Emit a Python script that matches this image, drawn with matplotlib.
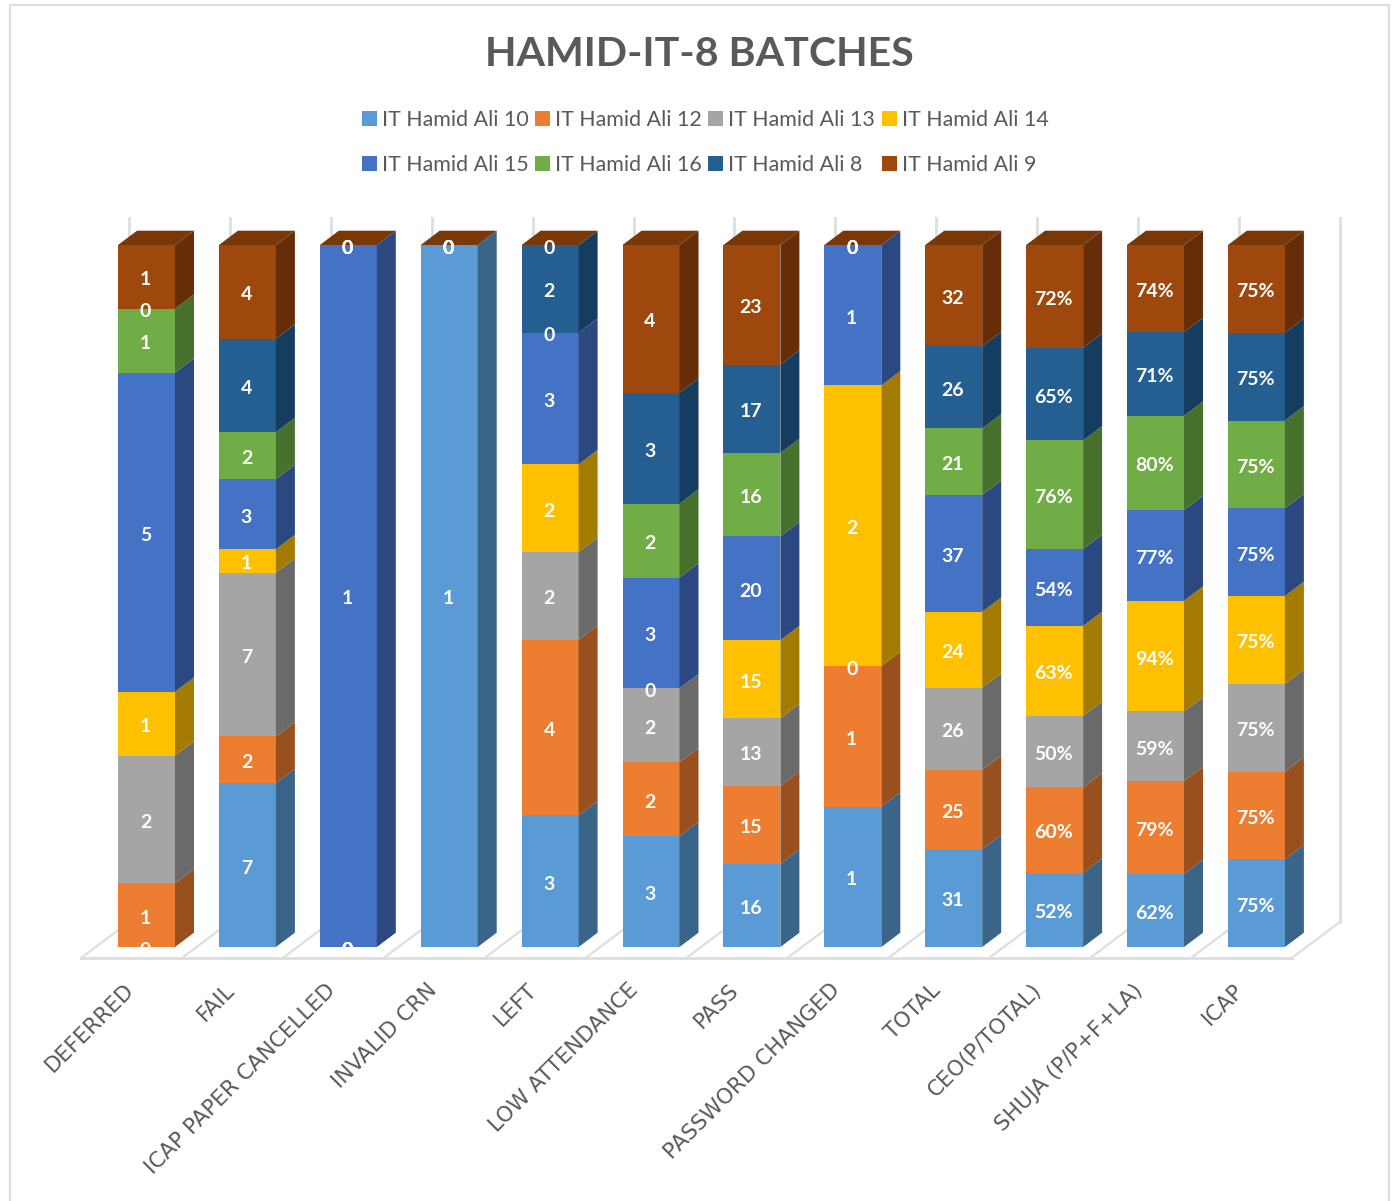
import matplotlib
matplotlib.use('Agg')
import matplotlib.pyplot as plt
from matplotlib.patches import Rectangle
from matplotlib.transforms import ScaledTranslation
import numpy as np

categories = ['DEFERRED', 'FAIL', 'ICAP PAPER CANCELLED', 'INVALID CRN', 'LEFT',
              'LOW ATTENDANCE', 'PASS', 'PASSWORD CHANGED', 'TOTAL', 'CEO(P/TOTAL)',
              'SHUJA (P/P+F+LA)', 'ICAP']
percent_categories = ['CEO(P/TOTAL)', 'SHUJA (P/P+F+LA)', 'ICAP']

series_names = ['IT Hamid Ali 10', 'IT Hamid Ali 12', 'IT Hamid Ali 13', 'IT Hamid Ali 14',
                'IT Hamid Ali 15', 'IT Hamid Ali 16', 'IT Hamid Ali 8', 'IT Hamid Ali 9']

hamid_10 = [0, 7, 0, 1, 3, 3, 16, 1, 31, 52, 62, 75]
hamid_12 = [1, 2, 0, 0, 4, 2, 15, 1, 25, 60, 79, 75]
hamid_13 = [2, 7, 0, 0, 2, 2, 13, 0, 26, 50, 59, 75]
hamid_14 = [1, 1, 0, 0, 2, 0, 15, 2, 24, 63, 94, 75]
hamid_15 = [5, 3, 1, 0, 3, 3, 20, 1, 37, 54, 77, 75]
hamid_16 = [1, 2, 0, 0, 0, 2, 16, 0, 21, 76, 80, 75]
hamid_8 = [0, 4, 0, 0, 2, 3, 17, 0, 26, 65, 71, 75]
hamid_9 = [1, 4, 0, 0, 0, 4, 23, 0, 32, 72, 74, 75]

front_colors = ['#5B9BD5', '#ED7D31', '#A5A5A5', '#FFC000', '#4472C4', '#70AD47', '#255E91', '#9E480E']
side_colors = ['#3A6488', '#98501F', '#6A6A6A', '#A37B00', '#2B4980', '#48702D', '#153D60', '#662E08']
top_color = '#7A3708'
grey_text = '#595959'
line_grey = '#DEDEDE'

W, H = 1395, 1201
FRONT_Y = 947
PLOT_H = 702
STEP = 100.9

fig = plt.figure(figsize=(W / 100, H / 100), dpi=100)
fig.add_artist(Rectangle((10 / W, -0.01), 1379 / W, 1.01 - 5 / H, transform=fig.transFigure,
                         fill=False, edgecolor=line_grey, linewidth=1.6))

ax = fig.add_axes([(146.5 - STEP / 2) / W, (H - FRONT_Y) / H, 12 * STEP / W, PLOT_H * 1.1 / H])
ax.set_xlim(-0.5, 11.5)
ax.set_ylim(0, 1.1)
for s in ax.spines.values():
    s.set_visible(False)

# depth of the fake 3d boxes, in data units
dx = 19 / STEP
dy = 14.3 / PLOT_H
bar_w = 57 / STEP

# floor and back wall lines
floor_y = -11 / PLOT_H
back_y = 25 / PLOT_H
wall_top = (FRONT_Y - 218) / PLOT_H
x0 = -0.5 + (81 - (146.5 - STEP / 2)) / STEP
shift = 48 / STEP
ax.plot([x0, x0 + 12], [floor_y, floor_y], color=line_grey, lw=2, clip_on=False, zorder=1)
for i in range(13):
    ax.plot([x0 + i, x0 + i + shift], [floor_y, back_y], color=line_grey, lw=1.6, clip_on=False, zorder=1)
    ax.plot([x0 + i + shift, x0 + i + shift], [back_y, wall_top], color=line_grey, lw=2, clip_on=False, zorder=1)

all_series = [hamid_10, hamid_12, hamid_13, hamid_14, hamid_15, hamid_16, hamid_8, hamid_9]
values = np.array(all_series, dtype=float)
shares = values / values.sum(axis=0)
x = np.arange(len(categories))

bottom = np.zeros(len(categories))
handles = []
for k in range(len(series_names)):
    bars = ax.bar(x, shares[k], bar_w, bottom=bottom, color=front_colors[k], label=series_names[k], zorder=3)
    handles.append(bars)
    for i in range(len(categories)):
        r = x[i] + bar_w / 2
        b = bottom[i]
        t = b + shares[k][i]
        if t > b:
            ax.fill([r, r + dx, r + dx, r], [b, b + dy, t + dy, t], color=side_colors[k], lw=0, zorder=3)
    bottom = bottom + shares[k]

# top lid is always the last series colour
for i in range(len(categories)):
    l = x[i] - bar_w / 2
    r = x[i] + bar_w / 2
    ax.fill([l, r, r + dx, l + dx], [1, 1, 1 + dy, 1 + dy], color=top_color, lw=0, zorder=3)

# data labels
bottom = np.zeros(len(categories))
for k in range(len(series_names)):
    for i in range(len(categories)):
        txt = str(all_series[k][i])
        if categories[i] in percent_categories:
            txt = txt + '%'
        ax.text(x[i] - 1 / STEP, bottom[i] + shares[k][i] / 2 - 3 / PLOT_H, txt, color='white', fontsize=14,
                fontweight='bold', family='Lato', ha='center', va='center', zorder=5, clip_on=True)
    bottom = bottom + shares[k]

ax.set_yticks([])
ax.set_xticks(x)
ax.set_xticklabels(categories, rotation=45, ha='right', va='center', rotation_mode='anchor',
                   color=grey_text, fontsize=15.5, family='DejaVu Sans')
ax.tick_params(axis='x', length=0, pad=0)
offset = ScaledTranslation(-16 / 100, -40 / 100, fig.dpi_scale_trans)
for lab in ax.get_xticklabels():
    lab.set_transform(lab.get_transform() + offset)

fig.text(699 / W, 1 - 54 / H, 'HAMID-IT-8 BATCHES', color=grey_text, fontsize=29.6, fontweight='bold',
         family='Lato', ha='center', va='center')

# legend fills by column, so reorder to read across rows
order = [0, 4, 1, 5, 2, 6, 3, 7]
fs = 15.4
px = fs * 100 / 72
ax.legend([handles[j] for j in order], [series_names[j] for j in order], ncol=4, frameon=False,
          loc='center', bbox_to_anchor=(705 / W, 1 - 142.5 / H), bbox_transform=fig.transFigure,
          prop={'family': 'Lato', 'size': fs}, labelcolor=grey_text,
          handlelength=15 / px, handleheight=15 / px, handletextpad=5 / px,
          columnspacing=6.5 / px, labelspacing=(47 - px) / px)

fig.savefig('out.png', dpi=100)
